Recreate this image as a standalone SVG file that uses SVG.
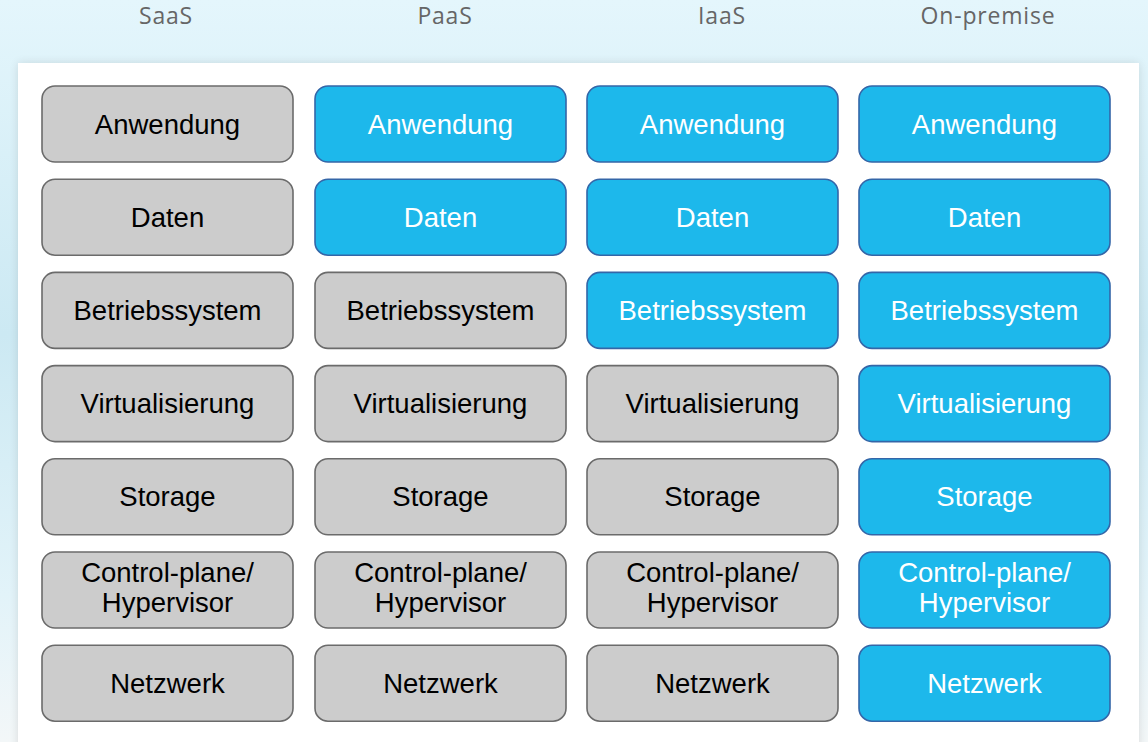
<svg xmlns="http://www.w3.org/2000/svg" width="1148" height="742" viewBox="0 0 1148 742">
  <defs>
    <linearGradient id="bg" x1="0" y1="0" x2="0" y2="1">
      <stop offset="0" stop-color="#e4f6fc"/>
      <stop offset="0.45" stop-color="#cce9f3"/>
      <stop offset="0.8" stop-color="#e2f3f9"/>
      <stop offset="1" stop-color="#f3f7f8"/>
    </linearGradient>
    <filter id="panelShadow" x="-5%" y="-5%" width="110%" height="110%">
      <feGaussianBlur in="SourceAlpha" stdDeviation="5"/>
      <feOffset dx="0" dy="0"/>
      <feComponentTransfer><feFuncA type="linear" slope="0.12"/></feComponentTransfer>
      <feMerge><feMergeNode/><feMergeNode in="SourceGraphic"/></feMerge>
    </filter>
    <style>
      .head { font-family: "Open Sans", "Liberation Sans", sans-serif; font-size: 23px; fill: #666666; text-anchor: middle; letter-spacing: 0.8px; }
      .box rect { stroke-width: 1.6; }
      .box text { font-family: "Liberation Sans", Arial, sans-serif; font-size: 27.5px; text-anchor: middle; }
      .provided rect { fill: #cccccc; stroke: #6b6b6b; }
      .provided text { fill: #000000; }
      .managed rect { fill: #1db8eb; stroke: #3466a8; }
      .managed text { fill: #ffffff; }
    </style>
  </defs>

  <!-- backdrop and white panel -->
  <rect x="0" y="0" width="1148" height="742" fill="url(#bg)"/>
  <rect x="18" y="63" width="1121" height="690" fill="#ffffff" filter="url(#panelShadow)"/>

  <!-- column headings -->
  <g id="headings">
    <text class="head" x="166" y="24">SaaS</text>
    <text class="head" x="445" y="24">PaaS</text>
    <text class="head" x="722" y="24">IaaS</text>
    <text class="head" x="988" y="24">On-premise</text>
  </g>

  <!-- SaaS column -->
  <g id="saas-anwendung" class="box provided"><rect x="42" y="86" width="251" height="76" rx="13"/><text x="167.5" y="133.5">Anwendung</text></g>
  <g id="saas-daten" class="box provided"><rect x="42" y="179.2" width="251" height="76" rx="13"/><text x="167.5" y="226.7">Daten</text></g>
  <g id="saas-betriebssystem" class="box provided"><rect x="42" y="272.4" width="251" height="76" rx="13"/><text x="167.5" y="319.9">Betriebssystem</text></g>
  <g id="saas-virtualisierung" class="box provided"><rect x="42" y="365.6" width="251" height="76" rx="13"/><text x="167.5" y="413.1">Virtualisierung</text></g>
  <g id="saas-storage" class="box provided"><rect x="42" y="458.8" width="251" height="76" rx="13"/><text x="167.5" y="506.3">Storage</text></g>
  <g id="saas-controlplane" class="box provided"><rect x="42" y="552" width="251" height="76" rx="13"/><text x="167.5" y="582.2">Control-plane/</text><text x="167.5" y="612.2">Hypervisor</text></g>
  <g id="saas-netzwerk" class="box provided"><rect x="42" y="645.2" width="251" height="76" rx="13"/><text x="167.5" y="692.7">Netzwerk</text></g>

  <!-- PaaS column -->
  <g id="paas-anwendung" class="box managed"><rect x="315" y="86" width="251" height="76" rx="13"/><text x="440.5" y="133.5">Anwendung</text></g>
  <g id="paas-daten" class="box managed"><rect x="315" y="179.2" width="251" height="76" rx="13"/><text x="440.5" y="226.7">Daten</text></g>
  <g id="paas-betriebssystem" class="box provided"><rect x="315" y="272.4" width="251" height="76" rx="13"/><text x="440.5" y="319.9">Betriebssystem</text></g>
  <g id="paas-virtualisierung" class="box provided"><rect x="315" y="365.6" width="251" height="76" rx="13"/><text x="440.5" y="413.1">Virtualisierung</text></g>
  <g id="paas-storage" class="box provided"><rect x="315" y="458.8" width="251" height="76" rx="13"/><text x="440.5" y="506.3">Storage</text></g>
  <g id="paas-controlplane" class="box provided"><rect x="315" y="552" width="251" height="76" rx="13"/><text x="440.5" y="582.2">Control-plane/</text><text x="440.5" y="612.2">Hypervisor</text></g>
  <g id="paas-netzwerk" class="box provided"><rect x="315" y="645.2" width="251" height="76" rx="13"/><text x="440.5" y="692.7">Netzwerk</text></g>

  <!-- IaaS column -->
  <g id="iaas-anwendung" class="box managed"><rect x="587" y="86" width="251" height="76" rx="13"/><text x="712.5" y="133.5">Anwendung</text></g>
  <g id="iaas-daten" class="box managed"><rect x="587" y="179.2" width="251" height="76" rx="13"/><text x="712.5" y="226.7">Daten</text></g>
  <g id="iaas-betriebssystem" class="box managed"><rect x="587" y="272.4" width="251" height="76" rx="13"/><text x="712.5" y="319.9">Betriebssystem</text></g>
  <g id="iaas-virtualisierung" class="box provided"><rect x="587" y="365.6" width="251" height="76" rx="13"/><text x="712.5" y="413.1">Virtualisierung</text></g>
  <g id="iaas-storage" class="box provided"><rect x="587" y="458.8" width="251" height="76" rx="13"/><text x="712.5" y="506.3">Storage</text></g>
  <g id="iaas-controlplane" class="box provided"><rect x="587" y="552" width="251" height="76" rx="13"/><text x="712.5" y="582.2">Control-plane/</text><text x="712.5" y="612.2">Hypervisor</text></g>
  <g id="iaas-netzwerk" class="box provided"><rect x="587" y="645.2" width="251" height="76" rx="13"/><text x="712.5" y="692.7">Netzwerk</text></g>

  <!-- On-premise column -->
  <g id="onprem-anwendung" class="box managed"><rect x="859" y="86" width="251" height="76" rx="13"/><text x="984.5" y="133.5">Anwendung</text></g>
  <g id="onprem-daten" class="box managed"><rect x="859" y="179.2" width="251" height="76" rx="13"/><text x="984.5" y="226.7">Daten</text></g>
  <g id="onprem-betriebssystem" class="box managed"><rect x="859" y="272.4" width="251" height="76" rx="13"/><text x="984.5" y="319.9">Betriebssystem</text></g>
  <g id="onprem-virtualisierung" class="box managed"><rect x="859" y="365.6" width="251" height="76" rx="13"/><text x="984.5" y="413.1">Virtualisierung</text></g>
  <g id="onprem-storage" class="box managed"><rect x="859" y="458.8" width="251" height="76" rx="13"/><text x="984.5" y="506.3">Storage</text></g>
  <g id="onprem-controlplane" class="box managed"><rect x="859" y="552" width="251" height="76" rx="13"/><text x="984.5" y="582.2">Control-plane/</text><text x="984.5" y="612.2">Hypervisor</text></g>
  <g id="onprem-netzwerk" class="box managed"><rect x="859" y="645.2" width="251" height="76" rx="13"/><text x="984.5" y="692.7">Netzwerk</text></g>

  <!-- no connectors in this layout -->
  <g id="connectors"/>
</svg>
